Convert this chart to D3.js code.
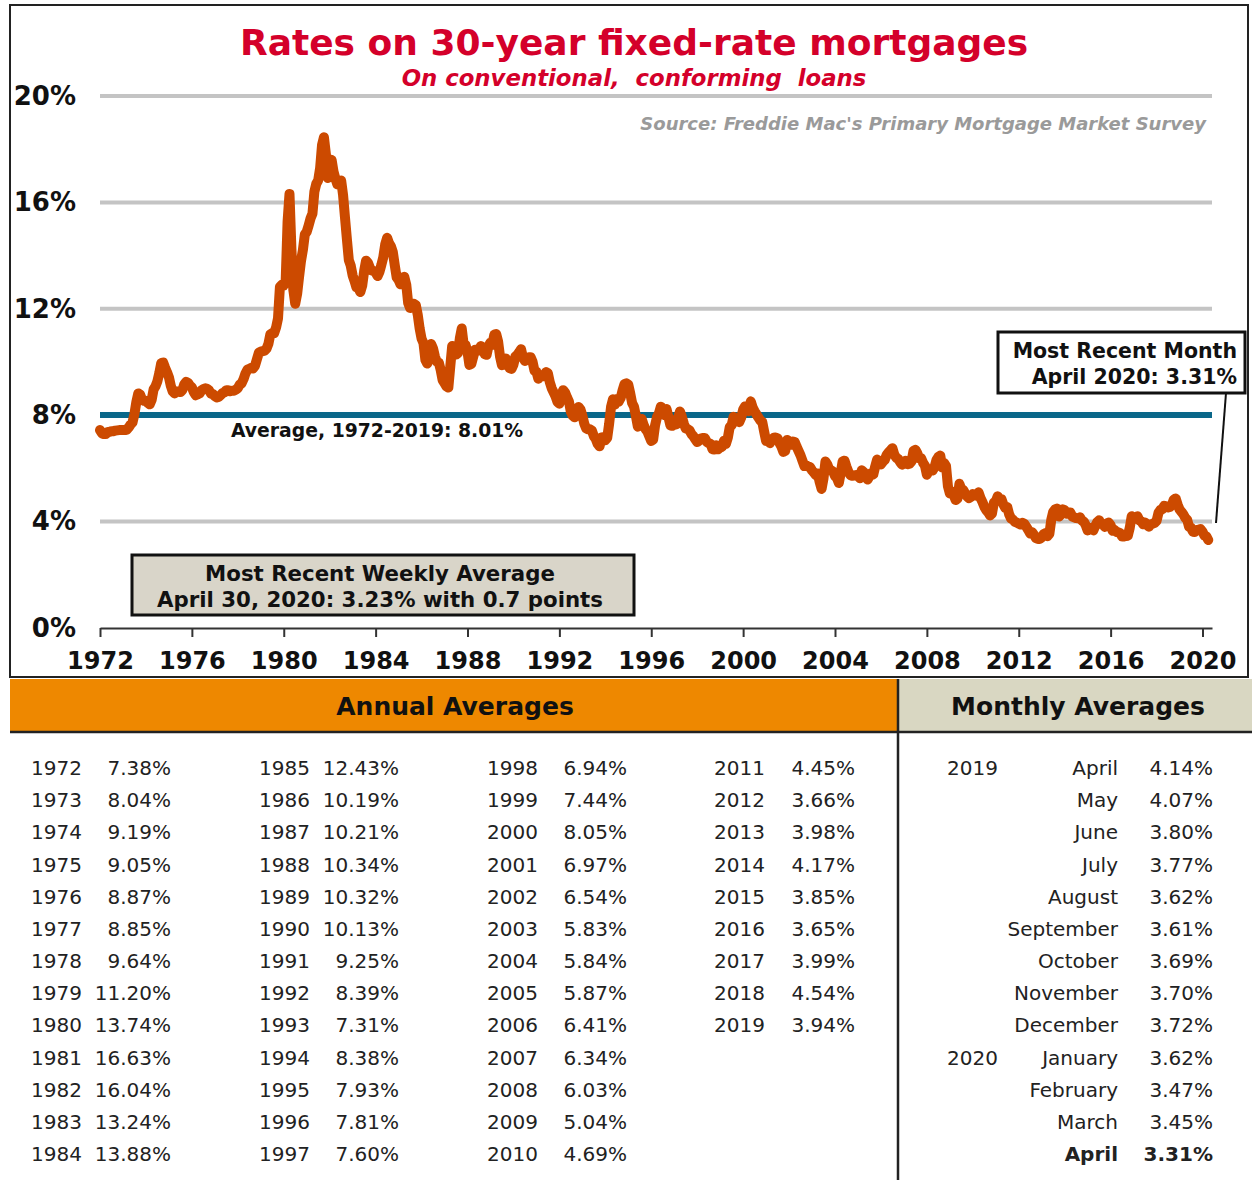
<!DOCTYPE html>
<html>
<head>
<meta charset="utf-8">
<script src="https://cdn.jsdelivr.net/npm/d3@7"></script>
<style>
  body { margin: 0; background: #fff; }
  svg text { font-family: Verdana, "DejaVu Sans", sans-serif; }
</style>
</head>
<body>
<div id="chart"></div>
<script>
// Monthly averages of the 30-year fixed rate (%), Jan 1972 onward
const rates1970s = [
  7.44, 7.32, 7.29, 7.29, 7.37, 7.37, 7.40, 7.40, 7.42, 7.43, 7.44, 7.44,
  7.44, 7.44, 7.46, 7.54, 7.65, 7.73, 8.05, 8.50, 8.82, 8.77, 8.58, 8.54,
  8.54, 8.46, 8.41, 8.58, 8.97, 9.09, 9.28, 9.59, 9.96, 9.98, 9.79, 9.62,
  9.43, 9.10, 8.89, 8.82, 8.89, 8.89, 8.87, 8.94, 9.16, 9.25, 9.22, 9.11,
  9.05, 8.87, 8.75, 8.78, 8.82, 8.93, 8.98, 9.01, 8.99, 8.93, 8.81, 8.79,
  8.72, 8.67, 8.69, 8.75, 8.83, 8.86, 8.94, 8.94, 8.90, 8.92, 8.92, 8.96,
  9.02, 9.15, 9.20, 9.36, 9.57, 9.71, 9.74, 9.78, 9.76, 9.86, 10.11, 10.35,
  10.39, 10.41, 10.43, 10.50, 10.69, 11.04, 11.09, 11.09, 11.30, 11.64, 12.83, 12.90
];
const rates1980s = [
  12.88, 13.04, 15.28, 16.32, 14.26, 12.71, 12.19, 12.56, 13.20, 13.79, 14.21, 14.79,
  14.90, 15.13, 15.40, 15.58, 16.40, 16.70, 16.83, 17.29, 18.16, 18.45, 17.83, 16.92,
  17.40, 17.60, 17.16, 16.89, 16.68, 16.70, 16.82, 16.27, 15.43, 14.61, 13.83, 13.62,
  13.25, 13.04, 12.80, 12.78, 12.63, 12.87, 13.42, 13.81, 13.73, 13.54, 13.44, 13.42,
  13.37, 13.23, 13.39, 13.65, 13.94, 14.42, 14.67, 14.47, 14.35, 14.13, 13.64, 13.18,
  13.08, 12.92, 13.17, 13.20, 12.91, 12.22, 12.03, 12.19, 12.19, 12.14, 11.78, 11.26,
  10.88, 10.71, 10.08, 9.94, 10.14, 10.68, 10.51, 10.20, 10.01, 9.98, 9.70, 9.32,
  9.20, 9.08, 9.04, 9.83, 10.60, 10.54, 10.28, 10.33, 10.89, 11.26, 10.65, 10.64,
  10.38, 9.89, 9.93, 10.20, 10.46, 10.46, 10.43, 10.60, 10.48, 10.30, 10.27, 10.61,
  10.73, 10.65, 11.03, 11.05, 10.77, 10.20, 9.88, 9.99, 10.13, 9.95, 9.77, 9.74
];
const rates1990s = [
  9.90, 10.20, 10.27, 10.37, 10.48, 10.16, 10.04, 10.10, 10.18, 10.18, 10.01, 9.67,
  9.64, 9.37, 9.50, 9.49, 9.47, 9.62, 9.58, 9.24, 9.01, 8.86, 8.71, 8.50,
  8.43, 8.76, 8.94, 8.85, 8.67, 8.51, 8.13, 7.98, 7.92, 8.09, 8.31, 8.22,
  7.99, 7.68, 7.50, 7.47, 7.47, 7.42, 7.21, 7.11, 6.92, 6.83, 7.16, 7.17,
  7.06, 7.15, 7.68, 8.32, 8.60, 8.40, 8.61, 8.51, 8.64, 8.93, 9.17, 9.20,
  9.15, 8.83, 8.46, 8.32, 7.96, 7.57, 7.61, 7.86, 7.64, 7.48, 7.38, 7.20,
  7.03, 7.08, 7.62, 7.93, 8.07, 8.32, 8.25, 8.00, 8.23, 7.92, 7.62, 7.60,
  7.82, 7.65, 7.90, 8.14, 7.94, 7.69, 7.50, 7.48, 7.43, 7.29, 7.21, 7.10,
  6.99, 7.04, 7.13, 7.14, 7.14, 7.00, 6.95, 6.92, 6.72, 6.71, 6.87, 6.72,
  6.79, 6.81, 7.04, 6.92, 7.15, 7.55, 7.63, 7.94, 7.82, 7.85, 7.74, 7.91
];
const rates2000s = [
  8.21, 8.33, 8.24, 8.15, 8.52, 8.29, 8.15, 8.03, 7.91, 7.80, 7.75, 7.38,
  7.03, 7.05, 6.95, 7.08, 7.15, 7.16, 7.13, 6.95, 6.82, 6.62, 6.66, 7.07,
  7.00, 6.89, 7.01, 6.99, 6.81, 6.65, 6.49, 6.29, 6.09, 6.11, 6.07, 6.05,
  5.92, 5.84, 5.75, 5.81, 5.48, 5.23, 5.63, 6.26, 6.15, 5.95, 5.93, 5.88,
  5.71, 5.64, 5.45, 5.83, 6.27, 6.29, 6.06, 5.87, 5.75, 5.72, 5.73, 5.75,
  5.71, 5.63, 5.93, 5.86, 5.72, 5.58, 5.70, 5.82, 5.77, 6.07, 6.33, 6.27,
  6.15, 6.25, 6.32, 6.51, 6.60, 6.68, 6.76, 6.52, 6.40, 6.36, 6.24, 6.14,
  6.22, 6.29, 6.16, 6.18, 6.26, 6.66, 6.70, 6.57, 6.38, 6.38, 6.21, 6.10,
  5.76, 5.92, 5.97, 5.92, 6.04, 6.32, 6.43, 6.48, 6.04, 6.20, 6.09, 5.33,
  5.06, 5.13, 5.00, 4.81, 4.86, 5.42, 5.22, 5.19, 5.06, 4.95, 4.88, 4.93
];
const rates2010s = [
  5.03, 4.99, 4.97, 5.10, 4.89, 4.74, 4.56, 4.43, 4.35, 4.23, 4.30, 4.71,
  4.76, 4.95, 4.84, 4.84, 4.64, 4.51, 4.55, 4.27, 4.11, 4.07, 3.99, 3.96,
  3.92, 3.89, 3.95, 3.91, 3.80, 3.68, 3.55, 3.60, 3.50, 3.38, 3.35, 3.35,
  3.41, 3.53, 3.57, 3.45, 3.54, 4.07, 4.37, 4.46, 4.49, 4.19, 4.26, 4.46,
  4.43, 4.30, 4.34, 4.34, 4.19, 4.16, 4.13, 4.12, 4.16, 4.04, 4.00, 3.86,
  3.67, 3.71, 3.77, 3.67, 3.84, 3.98, 4.05, 3.91, 3.89, 3.80, 3.94, 3.96,
  3.87, 3.66, 3.69, 3.61, 3.60, 3.57, 3.44, 3.44, 3.46, 3.47, 3.77, 4.20,
  4.15, 4.17, 4.20, 4.05, 4.01, 3.90, 3.97, 3.88, 3.81, 3.90, 3.92, 3.95,
  4.03, 4.33, 4.44, 4.47, 4.59, 4.57, 4.53, 4.55, 4.63, 4.83, 4.87, 4.64,
  4.46, 4.37, 4.27, 4.14, 4.07, 3.80, 3.77, 3.62, 3.61, 3.69, 3.70, 3.72
];
const rates2020 = [3.62, 3.47, 3.45, 3.31];

const average = 8.01;
const yTicks = [0, 4, 8, 12, 16, 20];
const xTicks = [1972, 1976, 1980, 1984, 1988, 1992, 1996, 2000, 2004, 2008, 2012, 2016, 2020];

// table data
const annualYears = d3.range(1972, 2020);
const annualRates = [
  "7.38%", "8.04%", "9.19%", "9.05%", "8.87%", "8.85%", "9.64%", "11.20%", "13.74%", "16.63%", "16.04%", "13.24%", "13.88%",
  "12.43%", "10.19%", "10.21%", "10.34%", "10.32%", "10.13%", "9.25%", "8.39%", "7.31%", "8.38%", "7.93%", "7.81%", "7.60%",
  "6.94%", "7.44%", "8.05%", "6.97%", "6.54%", "5.83%", "5.84%", "5.87%", "6.41%", "6.34%", "6.03%", "5.04%", "4.69%",
  "4.45%", "3.66%", "3.98%", "4.17%", "3.85%", "3.65%", "3.99%", "4.54%", "3.94%"
];
const monthYears = ["2019", "", "", "", "", "", "", "", "", "2020", "", "", ""];
const monthNames = ["April", "May", "June", "July", "August", "September", "October", "November", "December",
                    "January", "February", "March", "April"];
const monthRates = ["4.14%", "4.07%", "3.80%", "3.77%", "3.62%", "3.61%", "3.69%", "3.70%", "3.72%",
                    "3.62%", "3.47%", "3.45%", "3.31%"];

const W = 1252, H = 1180;
const svg = d3.select("#chart").append("svg")
    .attr("width", W).attr("height", H);

const x = d3.scaleLinear().domain([1972, 2020]).range([100, 1202.5]);
const y = d3.scaleLinear().domain([0, 20]).range([628, 96]);
const xEnd = x.invert(1212);

// frame around the chart
svg.append("rect")
    .attr("x", 10).attr("y", 5).attr("width", 1238).attr("height", 672)
    .attr("fill", "none").attr("stroke", "#222").attr("stroke-width", 2);

// titles
svg.append("text")
    .attr("x", 634).attr("y", 55).attr("text-anchor", "middle")
    .attr("font-size", 36).attr("font-weight", "bold").attr("fill", "#d4002a")
    .text("Rates on 30-year fixed-rate mortgages");
svg.append("text")
    .attr("x", 634).attr("y", 86).attr("text-anchor", "middle")
    .attr("font-size", 22.8).attr("font-weight", "bold").attr("font-style", "italic").attr("fill", "#d4002a")
    .attr("xml:space", "preserve")
    .text("On conventional,  conforming  loans");
svg.append("text")
    .attr("x", 1206).attr("y", 130).attr("text-anchor", "end")
    .attr("font-size", 18).attr("font-weight", "bold").attr("font-style", "italic").attr("fill", "#9a9a9a")
    .text("Source: Freddie Mac's Primary Mortgage Market Survey");

// gridlines
svg.append("g").selectAll("line")
    .data(yTicks.filter(d => d > 0))
  .enter().append("line")
    .attr("x1", x(1972)).attr("x2", x(xEnd))
    .attr("y1", d => y(d)).attr("y2", d => y(d))
    .attr("stroke", "#c4c4c4").attr("stroke-width", 4);

// y labels
const yAxis = svg.append("g")
    .attr("transform", "translate(76,0)")
    .call(d3.axisLeft(y).tickValues(yTicks).tickSize(0).tickPadding(0).tickFormat(d => d + "%"));
yAxis.select(".domain").remove();
yAxis.selectAll("text")
    .attr("font-size", 26).attr("font-weight", "bold").attr("fill", "#111")
    .style("font-family", "Verdana, 'DejaVu Sans', sans-serif");

// x axis
const x2 = x.copy().domain([1972, xEnd]).range([x(1972), x(xEnd)]);
const xAxis = svg.append("g")
    .attr("transform", `translate(0,${y(0)})`)
    .call(d3.axisBottom(x2).tickValues(xTicks).tickSize(9).tickSizeOuter(0).tickFormat(d3.format("d")));
xAxis.select(".domain").attr("stroke", "#333").attr("stroke-width", 2);
xAxis.selectAll(".tick line").attr("stroke", "#333").attr("stroke-width", 2);
xAxis.selectAll("text")
    .attr("y", 24).attr("font-size", 24).attr("font-weight", "bold").attr("fill", "#111")
    .style("font-family", "Verdana, 'DejaVu Sans', sans-serif");

// average line
svg.append("line")
    .attr("x1", x(1972)).attr("x2", x(xEnd))
    .attr("y1", y(average)).attr("y2", y(average))
    .attr("stroke", "#0a6789").attr("stroke-width", 6);
svg.append("text")
    .attr("x", 231).attr("y", y(average) + 22)
    .attr("font-size", 18.8).attr("font-weight", "bold").attr("fill", "#111")
    .text("Average, 1972-2019: 8.01%");

// rate line
const series = [].concat(rates1970s, rates1980s, rates1990s, rates2000s, rates2010s, rates2020)
    .map((v, i) => ({t: 1972 + i / 12, v: v}));
const line = d3.line().x(d => x(d.t)).y(d => y(d.v));
svg.append("path")
    .datum(series)
    .attr("d", line)
    .attr("fill", "none").attr("stroke", "#cc4a00")
    .attr("stroke-width", 10).attr("stroke-linejoin", "round").attr("stroke-linecap", "round");

// weekly box
svg.append("rect")
    .attr("x", 132).attr("y", 555).attr("width", 502).attr("height", 60)
    .attr("fill", "#d9d5c9").attr("stroke", "#111").attr("stroke-width", 3);
svg.append("text")
    .attr("x", 380).attr("y", 581).attr("text-anchor", "middle")
    .attr("font-size", 21.3).attr("font-weight", "bold").attr("fill", "#111")
    .text("Most Recent Weekly Average");
svg.append("text")
    .attr("x", 380).attr("y", 607).attr("text-anchor", "middle")
    .attr("font-size", 21.3).attr("font-weight", "bold").attr("fill", "#111")
    .text("April 30, 2020: 3.23% with 0.7 points");

// monthly box and leader
svg.append("line")
    .attr("x1", 1226).attr("y1", 393).attr("x2", 1216).attr("y2", 523)
    .attr("stroke", "#111").attr("stroke-width", 2);
svg.append("rect")
    .attr("x", 998).attr("y", 332).attr("width", 247).attr("height", 61)
    .attr("fill", "#fff").attr("stroke", "#111").attr("stroke-width", 3);
svg.append("text")
    .attr("x", 1237).attr("y", 358).attr("text-anchor", "end")
    .attr("font-size", 20.5).attr("font-weight", "bold").attr("fill", "#111")
    .text("Most Recent Month");
svg.append("text")
    .attr("x", 1237).attr("y", 384).attr("text-anchor", "end")
    .attr("font-size", 20.5).attr("font-weight", "bold").attr("fill", "#111")
    .text("April 2020: 3.31%");

// table headers
svg.append("rect").attr("x", 10).attr("y", 679).attr("width", 888).attr("height", 53).attr("fill", "#ee8800");
svg.append("rect").attr("x", 898).attr("y", 679).attr("width", 354).attr("height", 53).attr("fill", "#d9d7c2");
svg.append("line").attr("x1", 10).attr("x2", W).attr("y1", 732).attr("y2", 732)
    .attr("stroke", "#222").attr("stroke-width", 2.5);
svg.append("line").attr("x1", 898).attr("x2", 898).attr("y1", 679).attr("y2", H)
    .attr("stroke", "#222").attr("stroke-width", 2.5);
svg.append("text")
    .attr("x", 455).attr("y", 715).attr("text-anchor", "middle")
    .attr("font-size", 25).attr("font-weight", "bold").attr("fill", "#111")
    .text("Annual Averages");
svg.append("text")
    .attr("x", 1078).attr("y", 715).attr("text-anchor", "middle")
    .attr("font-size", 25).attr("font-weight", "bold").attr("fill", "#111")
    .text("Monthly Averages");

// table rows
const rowY = d3.scaleLinear().domain([0, 12]).range([775, 1161]);
const colX = [[31, 171], [259, 399], [487, 627], [714, 855]];
const annual = svg.append("g").attr("font-size", 20).attr("fill", "#222");
annualYears.forEach((yr, i) => {
  const c = Math.floor(i / 13), r = i % 13;
  annual.append("text").attr("x", colX[c][0]).attr("y", rowY(r)).text(yr);
  annual.append("text").attr("x", colX[c][1]).attr("y", rowY(r)).attr("text-anchor", "end").text(annualRates[i]);
});
const monthly = svg.append("g").attr("font-size", 20).attr("fill", "#222");
monthNames.forEach((m, i) => {
  const bold = i === monthNames.length - 1 ? "bold" : "normal";
  monthly.append("text").attr("x", 947).attr("y", rowY(i)).text(monthYears[i]);
  monthly.append("text").attr("x", 1118).attr("y", rowY(i)).attr("text-anchor", "end")
      .attr("font-weight", bold).text(m);
  monthly.append("text").attr("x", 1213).attr("y", rowY(i)).attr("text-anchor", "end")
      .attr("font-weight", bold).text(monthRates[i]);
});
</script>
</body>
</html>
